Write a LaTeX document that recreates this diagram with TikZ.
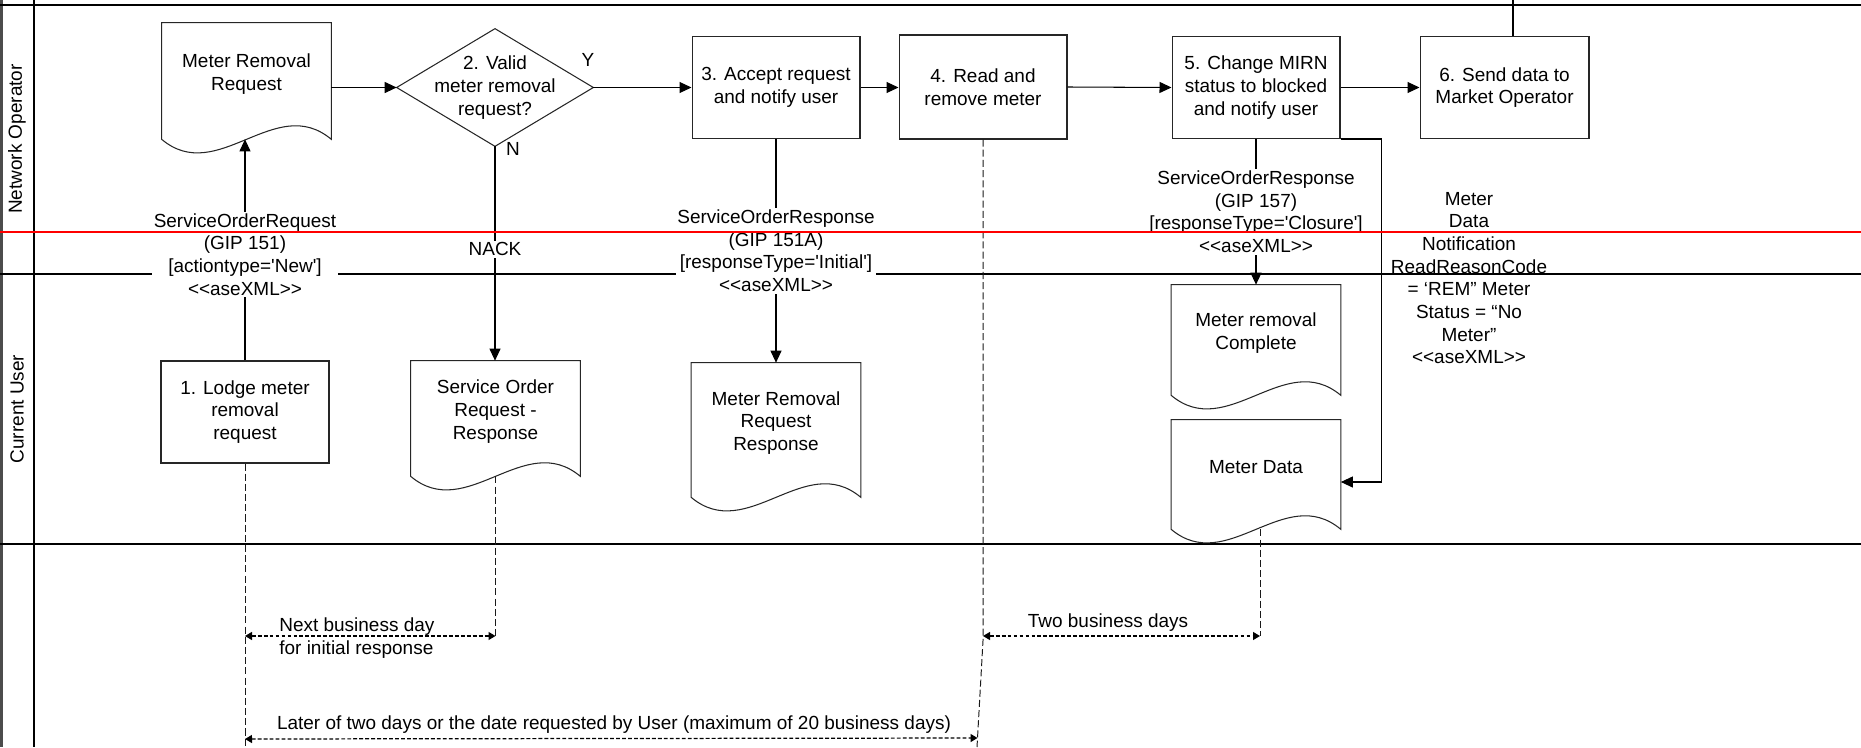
\documentclass[tikz,border=0pt]{standalone}
\usepackage{fontspec}
\setmainfont{Liberation Sans}[Ligatures=TeXOff]
\usetikzlibrary{arrows.meta,calc}
\newcommand{\docoutline}[1]{%
  \draw[shapeline] (#1.north west) -- (#1.north east) -- ($(#1.south east)+(0,14)$)
    .. controls ($(#1.south east)+(-56,-33)$) and ($(#1.south west)+(56,61)$) .. ($(#1.south west)+(0,14)$) -- cycle;}
\begin{document}
\begin{tikzpicture}[x=0.02cm, y=-0.02cm,
  every node/.style={font=\fontsize{10.8}{12.9}\selectfont, align=center, inner sep=0pt},
  proc/.style={draw=black!85, line width=0.6pt, minimum width=3.36cm, minimum height=2.04cm},
  docnode/.style={minimum width=3.38cm},
  decision/.style={minimum width=3.92cm, minimum height=2.34cm},
  shapeline/.style={draw=black!85, line width=0.6pt},
  arr/.style={line width=0.6pt, -{Triangle[length=0.24cm, width=0.22cm]}},
  msg/.style={fill=white, inner sep=1pt},
  laneline/.style={line width=0.8pt},
  vdash/.style={line width=0.55pt, dash pattern=on 4pt off 1.8pt, draw=black!90},
  spanarr/.style={line width=0.7pt, dash pattern=on 2.2pt off 1.2pt,
     {Triangle[length=0.14cm,width=0.16cm]}-{Triangle[length=0.14cm,width=0.16cm]}},
]
\useasboundingbox (0,0) rectangle (1861,747);

% swimlane frame
\draw[line width=2pt, draw=black!70] (1,0) -- (1,747);
\draw[laneline] (34,0) -- (34,747);
\draw[line width=1.2pt] (0,5) -- (1861,5);
\draw[laneline] (0,274) -- (1861,274);
\draw[laneline] (0,544) -- (1861,544);
\node[rotate=90] (laneNO) at (17,139) {Network Operator};
\node[rotate=90] (laneCU) at (17,409) {Current User};

% nodes
\node[docnode, minimum height=2.04cm] (D1) at (246.5,74) {Meter Removal\\Request};
\node[decision] (d2) at (495,87.5) {2. Valid\\meter removal\\request?};
\node[proc] (b3) at (776,87.5) {3. Accept request\\and notify user};
\node[proc, minimum height=2.08cm] (b4) at (983,87) {4. Read and\\remove meter};
\node[proc] (b5) at (1256,87.5) {5. Change MIRN\\status to blocked\\and notify user};
\node[proc, minimum width=3.38cm] (b6) at (1504.5,87.5) {6. Send data to\\Market Operator};
\node[proc] (b1) at (245,412) {1. Lodge meter\\removal\\request};
\node[docnode, minimum height=2.02cm] (D2) at (495.5,411.5) {Service Order\\Request -\\Response};
\node[docnode, minimum height=2.4cm] (D3) at (776,423) {Meter Removal\\Request\\Response};
\node[docnode, minimum height=1.92cm] (D4) at (1256,333) {Meter removal\\Complete};
\node[docnode, minimum height=1.9cm] (D5) at (1256,467.5) {Meter Data};

\docoutline{D1}
\docoutline{D2}
\docoutline{D3}
\docoutline{D4}
\docoutline{D5}
\draw[shapeline] (d2.north) -- (d2.east) -- (d2.south) -- (d2.west) -- cycle;

% connectors
\coordinate (D1b) at ($(D1.south)+(0,14)$);
\draw[arr] (b1.north) -- node[msg, pos=0.48]{ServiceOrderRequest\\(GIP 151)\\{[}actiontype='New']\\<<aseXML>>} (b1.north |- D1b);
\draw[arr] (D1.east |- d2.west) -- (d2.west);
\draw[arr] (d2.east) -- (b3.west);
\node (lY) at (588,60) {Y};
\draw[arr] (d2.south) -- node[msg, pos=0.48]{NACK} (d2.south |- D2.north);
\node (lN) at (513,149) {N};
\draw[arr] (b3.east) -- (b4.west |- b3.east);
\draw[arr] (b4.east) -- (b5.west);
\draw[arr] (b5.east) -- (b6.west);
\draw[arr] (b3.south) -- node[msg, pos=0.5]{ServiceOrderResponse\\(GIP 151A)\\{[}responseType='Initial']\\<<aseXML>>} (D3.north);
\draw[arr] (b5.south) -- node[msg, pos=0.5]{ServiceOrderResponse\\(GIP 157)\\{[}responseType='Closure']\\<<aseXML>>} (D4.north);
\coordinate (D5r) at ($(D5.east)+(0,14.5)$);
\draw[arr] (b5.south east) -| ($(D5r)+(41,0)$) -- (D5r);
\node (mdn) at (1469,278) {Meter\\Data\\Notification\\ReadReasonCode\\= ‘REM” Meter\\Status = “No\\Meter”\\<<aseXML>>};
\coordinate (top6) at (1513,0);
\draw[line width=0.6pt] (top6 |- b6.north) -- (top6);

% timing
\coordinate (tb) at (0,747);
\coordinate (tm) at (0,636);
\coordinate (tl) at (0,739);
\coordinate (b4end) at (977,747);
\draw[vdash] (b1.south) -- (b1.south |- tb);
\coordinate (D2b) at ($(D2.south)+(0,14)$);
\draw[vdash] (D2b) -- (D2b |- tm);
\draw[spanarr] (b1.south |- tm) -- (D2b |- tm);
\node[anchor=west, align=left] (lnb) at (279,638) {Next business day\\for initial response};
\draw[vdash] (b4.south) -- ++(0,501) -- (b4end);
\coordinate (D5b) at ($(D5.south)+(4,14)$);
\draw[vdash] (D5b) -- (D5b |- tm);
\draw[spanarr] (b4.south |- tm) -- (D5b |- tm);
\node (l2bd) at (1108,623) {Two business days};
\draw[spanarr] (b1.south |- tl) -- (977.5,738);
\node (llater) at (614,725) {Later of two days or the date requested by User (maximum of 20 business days)};

% red marker line
\draw[red, line width=1.1pt] (0,232) -- (1861,232);
\end{tikzpicture}
\end{document}
